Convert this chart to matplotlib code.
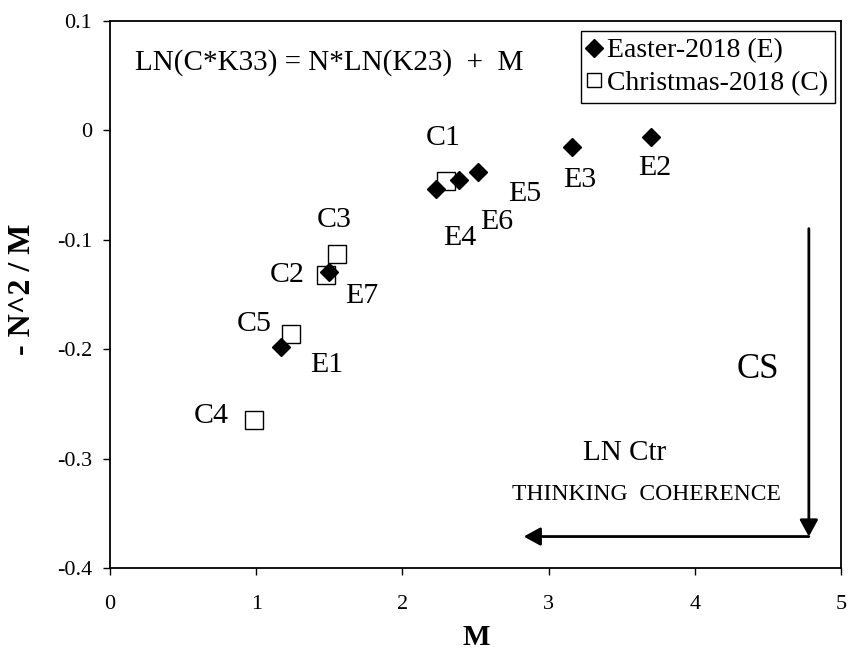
import numpy as np
import matplotlib
matplotlib.use("Agg")
import matplotlib.pyplot as plt

plt.rcParams['font.family'] = ['Liberation Serif', 'DejaVu Serif']

# Easter-2018 (E)
e_labels = ["E1", "E2", "E3", "E4", "E5", "E6", "E7"]
e_m = [1.17, 3.70, 3.16, 2.23, 2.52, 2.39, 1.50]
e_y = [-0.198, -0.0065, -0.0155, -0.0535, -0.0378, -0.0455, -0.129]

# Christmas-2018 (C)
c_labels = ["C1", "C2", "C3", "C4", "C5"]
c_m = [2.30, 1.48, 1.55, 0.985, 1.24]
c_y = [-0.046, -0.1325, -0.1128, -0.265, -0.186]

# label offsets (pixels, relative to the point)
e_off = [(46, -18), (4, -31), (8, -33), (24, -49), (46, -22), (37, -42), (32, -24)]
c_off = [(-3, 43), (-39, 0), (-2, 34), (-43, 4), (-37, 10)]

fig = plt.figure(figsize=(8.56, 6.5), dpi=100)
ax = fig.add_axes([0.1285, 0.1257, 0.854, 0.8423])

ax.plot(e_m, e_y, ls="None", marker="D", ms=9.5, color="black", label="Easter-2018 (E)")
ax.plot(c_m, c_y, ls="None", marker="s", ms=12.5, mfc="none", mec="black", mew=1.0,
        label="Christmas-2018 (C)")

for lab, x, y, off in zip(e_labels, e_m, e_y, e_off):
    ax.annotate(lab, (x, y), xytext=off, textcoords="offset pixels",
                ha="center", va="center", fontsize=21.5)
for lab, x, y, off in zip(c_labels, c_m, c_y, c_off):
    ax.annotate(lab, (x, y), xytext=off, textcoords="offset pixels",
                ha="center", va="center", fontsize=21.5)

ax.text(0.17, 0.062, "LN(C*K33) = N*LN(K23)  +  M", fontsize=21, ha="left", va="center")
ax.text(4.43, -0.218, "CS", fontsize=25, ha="center", va="center")
ax.text(3.52, -0.295, "LN Ctr", fontsize=21, ha="center", va="center")
ax.text(3.67, -0.333, "THINKING  COHERENCE", fontsize=17, ha="center", va="center")

arw = dict(arrowstyle="-|>,head_length=1.0,head_width=0.55", color="black", lw=2,
           shrinkA=0, shrinkB=0, mutation_scale=10)
ax.annotate("", xy=(4.78, -0.371), xytext=(4.78, -0.0898), arrowprops=arw)
ax.annotate("", xy=(2.83, -0.371), xytext=(4.78, -0.371), arrowprops=arw)

ax.set_xlim(0, 5)
ax.set_ylim(-0.4, 0.1)
ax.set_xticks([0, 1, 2, 3, 4, 5])
ax.set_yticks([-0.4, -0.3, -0.2, -0.1, 0, 0.1])
ax.set_yticklabels(["-0.4", "-0.3", "-0.2", "-0.1", "0", "0.1"])
ax.tick_params(direction="out", length=5, width=1, labelsize=16)
ax.tick_params(axis="x", pad=14)
ax.tick_params(axis="y", pad=8)
for s in ax.spines.values():
    s.set_linewidth(1.3)

ax.set_xlabel("M", fontsize=21, fontweight="bold", va="center")
ax.set_ylabel("- N^2 / M", fontsize=23, fontweight="bold", va="center")
ax.xaxis.set_label_coords(0.5007, -0.1255)
ax.yaxis.set_label_coords(-0.1197, 0.510)

leg = ax.legend(loc="upper right", bbox_to_anchor=(0.9918, 0.9812), borderaxespad=0,
                fontsize=20, frameon=True, fancybox=False, edgecolor="black", framealpha=1,
                handlelength=0.5, handletextpad=0.2, borderpad=0.25, labelspacing=0.25)
leg.get_frame().set_linewidth(1.0)
leg.legend_handles[0].set_markersize(9)
leg.legend_handles[1].set_markersize(9.5)

fig.savefig("out.png", dpi=100)
